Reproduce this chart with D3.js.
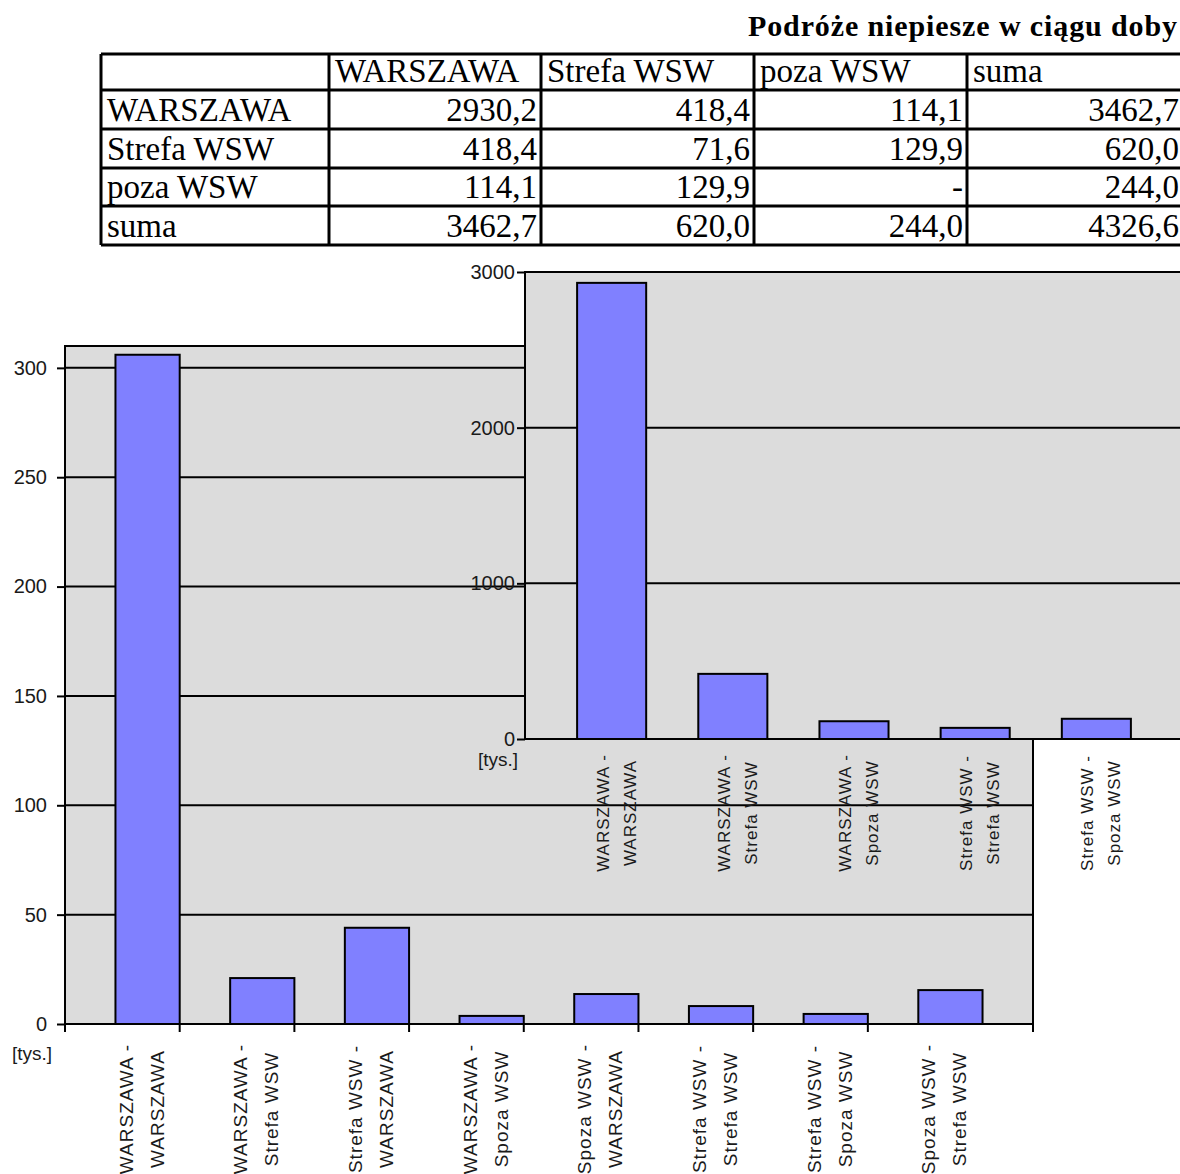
<!DOCTYPE html>
<html>
<head>
<meta charset="utf-8">
<script src="https://cdn.jsdelivr.net/npm/d3@7"></script>
<style>
  body { margin: 0; background: #fff; }
  svg { display: block; }
</style>
</head>
<body>
<svg width="1180" height="1174"></svg>
<script>
// ---- data ----
var title = "Podróże niepiesze w ciągu doby";
var tableHead = ["", "WARSZAWA", "Strefa WSW", "poza WSW", "suma"];
var tableRows = ["WARSZAWA", "Strefa WSW", "poza WSW", "suma"];
var tableValues = [
  ["2930,2", "418,4", "114,1", "3462,7"],
  ["418,4", "71,6", "129,9", "620,0"],
  ["114,1", "129,9", "-", "244,0"],
  ["3462,7", "620,0", "244,0", "4326,6"]
];

// whole day (inset chart)
var dayCats = [
  ["WARSZAWA -", "WARSZAWA"],
  ["WARSZAWA -", "Strefa WSW"],
  ["WARSZAWA -", "Spoza WSW"],
  ["Strefa WSW -", "Strefa WSW"],
  ["Strefa WSW -", "Spoza WSW"]
];
var dayValues = [2930.2, 418.4, 114.1, 71.6, 129.9];
var dayTicks = [0, 1000, 2000, 3000];

// big chart
var hourCats = [
  ["WARSZAWA -", "WARSZAWA"],
  ["WARSZAWA -", "Strefa WSW"],
  ["Strefa WSW -", "WARSZAWA"],
  ["WARSZAWA -", "Spoza WSW"],
  ["Spoza WSW -", "WARSZAWA"],
  ["Strefa WSW -", "Strefa WSW"],
  ["Strefa WSW -", "Spoza WSW"],
  ["Spoza WSW -", "Strefa WSW"]
];
var hourValues = [306, 21, 44, 3.7, 13.7, 8.2, 4.6, 15.5];
var hourTicks = [0, 50, 100, 150, 200, 250, 300];

var unitLabel = "[tys.]";

// ---- drawing ----
var svg = d3.select("svg");
var sans = "'Liberation Sans', Arial, sans-serif";
var serif = "'Liberation Serif', 'Times New Roman', serif";

// title + table
svg.append("text")
  .attr("x", 1177).attr("y", 36)
  .attr("text-anchor", "end")
  .attr("font-family", serif).attr("font-weight", "bold")
  .attr("font-size", 30)
  .attr("textLength", 429).attr("lengthAdjust", "spacing")
  .text(title);

var colX = [101, 329, 541, 754, 967, 1183];
var rowY = [54, 90, 129, 168, 206, 245];
var tbl = svg.append("g");

var allRows = [tableHead].concat(tableRows.map(function(r, i){ return [r].concat(tableValues[i]); }));
allRows.forEach(function(row, ri){
  row.forEach(function(cell, ci){
    var right = ri > 0 && ci > 0;
    tbl.append("text")
      .attr("x", right ? colX[ci+1] - 4 : colX[ci] + 6)
      .attr("y", rowY[ri+1] - 8)
      .attr("text-anchor", right ? "end" : "start")
      .attr("font-family", serif)
      .attr("font-size", 33)
      .text(cell);
  });
});
rowY.forEach(function(y){
  tbl.append("line").attr("x1", colX[0]).attr("x2", colX[5]).attr("y1", y).attr("y2", y)
    .attr("stroke", "#000").attr("stroke-width", 3);
});
colX.forEach(function(x){
  tbl.append("line").attr("x1", x).attr("x2", x).attr("y1", rowY[0]).attr("y2", rowY[5])
    .attr("stroke", "#000").attr("stroke-width", 3);
});

function drawChart(o) {
  var g = svg.append("g");
  var x = d3.scaleBand().domain(d3.range(o.values.length))
    .range([o.left, o.right]).padding(o.pad);
  var y = d3.scaleLinear().domain([0, o.yMax]).range([o.bottom, o.top]);

  g.append("rect")
    .attr("x", o.left).attr("y", o.top)
    .attr("width", o.right - o.left).attr("height", o.bottom - o.top)
    .attr("fill", "#dcdcdc");

  // gridlines
  g.selectAll(".grid").data(o.ticks.slice(1)).enter().append("line")
    .attr("x1", o.left).attr("x2", o.right)
    .attr("y1", function(d){ return y(d); }).attr("y2", function(d){ return y(d); })
    .attr("stroke", "#000").attr("stroke-width", 2);

  // bars
  g.selectAll(".bar").data(o.values).enter().append("rect")
    .attr("x", function(d, i){ return x(i); })
    .attr("y", function(d){ return y(d); })
    .attr("width", x.bandwidth())
    .attr("height", function(d){ return o.bottom - y(d); })
    .attr("fill", "#8080ff")
    .attr("stroke", "#000").attr("stroke-width", 2);

  // frame
  g.append("path")
    .attr("d", "M" + o.left + "," + o.bottom + "V" + o.top + "H" + o.right + "V" + o.bottom)
    .attr("fill", "none").attr("stroke", "#000").attr("stroke-width", 2);

  // y axis
  var ya = g.append("g").attr("transform", "translate(" + o.left + ",0)")
    .call(d3.axisLeft(y).tickValues(o.ticks).tickFormat(d3.format("d"))
      .tickSize(8).tickSizeOuter(0).tickPadding(o.tickPad));
  ya.select(".domain").remove();
  ya.selectAll("line").attr("stroke", "#000").attr("stroke-width", 2);
  ya.selectAll("text").attr("font-family", sans).attr("font-size", 20).attr("fill", "#1a1a1a");

  // x axis line + ticks
  g.append("line").attr("x1", o.left).attr("x2", o.right)
    .attr("y1", o.bottom).attr("y2", o.bottom)
    .attr("stroke", "#000").attr("stroke-width", 2);
  if (o.xTicks) {
    var tx = [o.left, o.right].concat(o.values.slice(0, -1).map(function(d, i){ return x(i) + x.bandwidth(); }));
    g.selectAll(".xt").data(tx).enter().append("line")
      .attr("x1", function(d){ return d; }).attr("x2", function(d){ return d; })
      .attr("y1", o.bottom).attr("y2", o.bottom + 8)
      .attr("stroke", "#000").attr("stroke-width", 2);
  }

  // unit label
  g.append("text").attr("x", o.unitX).attr("y", o.bottom + o.unitDy)
    .attr("font-family", sans).attr("font-size", 19).attr("fill", "#1a1a1a")
    .text(unitLabel);

  // category labels, rotated
  var lab = g.selectAll(".lab").data(o.cats).enter().append("g")
    .attr("transform", function(d, i){
      return "translate(" + (x(i) + x.bandwidth() / 2 + o.labelDx) + "," + o.labelY + ") rotate(-90)";
    });
  lab.each(function(d){
    var t = d3.select(this);
    d.forEach(function(line, li){
      t.append("text")
        .attr("x", 0).attr("y", (li - 0.5) * o.lineGap)
        .attr("text-anchor", "middle")
        .attr("dominant-baseline", "central")
        .attr("font-family", sans).attr("font-size", o.labelSize)
        .attr("letter-spacing", 1)
        .attr("fill", "#1a1a1a")
        .text(line);
    });
  });
}

drawChart({
  cats: hourCats, values: hourValues, ticks: hourTicks, yMax: 310,
  left: 65, right: 1033, top: 346, bottom: 1024, pad: 0.44, tickPad: 10,
  xTicks: true, unitX: 12, unitDy: 36,
  labelY: 1109, labelDx: -6, lineGap: 31, labelSize: 19
});

drawChart({
  cats: dayCats, values: dayValues, ticks: dayTicks, yMax: 3000,
  left: 525, right: 1183, top: 272, bottom: 739, pad: 0.43, tickPad: 2,
  xTicks: false, unitX: 478, unitDy: 27,
  labelY: 813, labelDx: 5, lineGap: 27, labelSize: 17
});
</script>
</body>
</html>
